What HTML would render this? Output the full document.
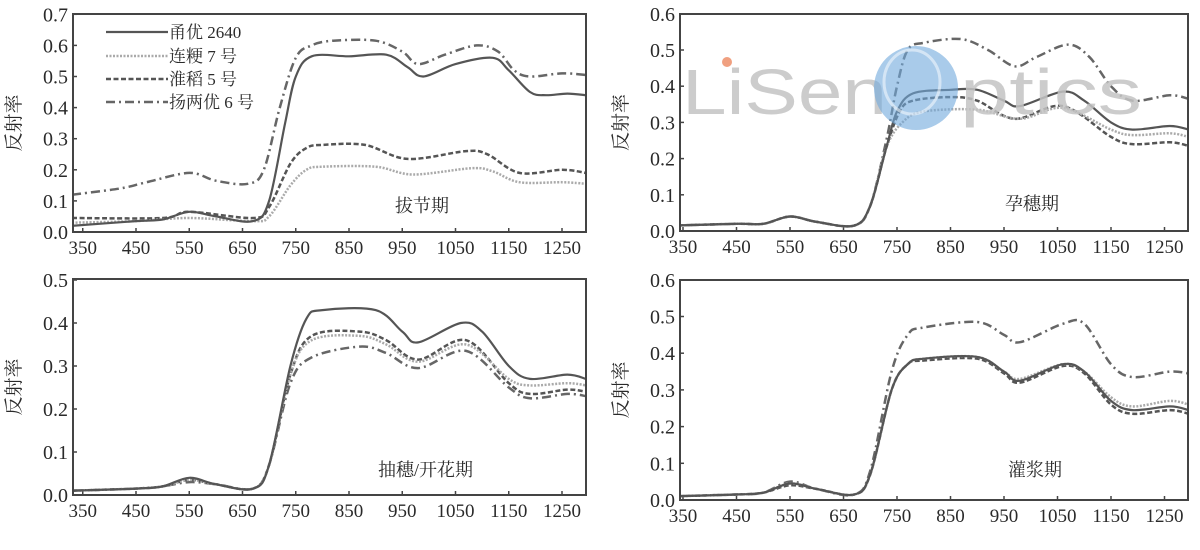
<!DOCTYPE html>
<html><head><meta charset="utf-8"><style>
html,body{margin:0;padding:0;background:#fff;}
svg{display:block;}
text{font-family:"Liberation Serif","Noto Serif CJK SC",serif;fill:#2a2a2a;}
.cj{font-family:"Liberation Serif","Noto Serif CJK SC","Noto Sans CJK SC",serif;}
</style></head><body>
<svg id="s" width="1200" height="550" viewBox="0 0 1200 550" xmlns="http://www.w3.org/2000/svg">
<g id="g"></g>
<!-- watermark -->
<text x="682" y="114" font-size="64" style="font-family:'Liberation Sans',sans-serif;fill:#c4c4c4;opacity:0.85" textLength="205" lengthAdjust="spacingAndGlyphs">LiSen</text>
<circle cx="727" cy="62" r="5" fill="#f0a080"/>
<circle cx="916" cy="88" r="42" fill="#6fa8dc" opacity="0.6"/>
<ellipse cx="912" cy="82" rx="28" ry="32" fill="none" stroke="#fff" stroke-width="3" opacity="0.5"/>
<text x="960" y="114" font-size="64" style="font-family:'Liberation Sans',sans-serif;fill:#c4c4c4;opacity:0.85" textLength="182" lengthAdjust="spacingAndGlyphs">ptics</text>
<!-- legend -->
<g font-size="17" class="cj">
<line x1="106" y1="32" x2="168" y2="32" stroke="#555" stroke-width="2.2"/>
<text x="169" y="38" class="cj">甬优 2640</text>
<line x1="106" y1="56" x2="168" y2="56" stroke="#aaa" stroke-width="2.5" stroke-dasharray="2 1.5"/>
<text x="169" y="62" class="cj">连粳 7 号</text>
<line x1="106" y1="79" x2="168" y2="79" stroke="#555" stroke-width="2.5" stroke-dasharray="5 2.5"/>
<text x="169" y="85" class="cj">淮稻 5 号</text>
<line x1="106" y1="102" x2="168" y2="102" stroke="#666" stroke-width="2.5" stroke-dasharray="9 4 2 4"/>
<text x="169" y="108" class="cj">扬两优 6 号</text>
</g>
<g font-size="18" class="cj">
<text x="395" y="212">拔节期</text>
<text x="1005" y="210">孕穗期</text>
<text x="378" y="476">抽穗/开花期</text>
<text x="1008" y="476">灌浆期</text>
</g>
</svg>
<script>
var NS="http://www.w3.org/2000/svg",G=document.getElementById('g');
function el(t,a,txt){var e=document.createElementNS(NS,t);for(var k in a)e.setAttribute(k,a[k]);if(txt!==undefined)e.textContent=txt;G.appendChild(e);return e;}
var panels=[
 {L:73,R:586,T:14,y0:232,py:311,xt:136,sx:0.5325,max:0.7,
  d:[
  [[330,.02],[450,.035],[500,.04],[550,.065],[600,.05],[670,.035],[700,.1],[730,.35],[750,.5],[780,.565],[850,.565],[920,.57],[960,.53],[990,.5],[1050,.54],[1120,.56],[1150,.52],[1190,.45],[1220,.44],[1260,.445],[1295,.44]],
  [[330,.03],[450,.035],[550,.045],[670,.035],[700,.05],[740,.15],[770,.2],[800,.21],[900,.21],[970,.185],[1080,.205],[1120,.195],[1170,.16],[1250,.16],[1295,.155]],
  [[330,.045],[500,.045],[550,.065],[670,.045],[700,.08],[740,.22],[770,.27],[800,.28],[880,.28],[960,.235],[1070,.26],[1110,.25],[1170,.19],[1250,.2],[1295,.19]],
  [[330,.12],[420,.14],[470,.16],[550,.19],[600,.165],[660,.155],[690,.2],[720,.4],[750,.56],[780,.6],[820,.615],[900,.615],[950,.58],[980,.54],[1030,.57],[1090,.6],[1130,.58],[1160,.52],[1190,.5],[1250,.51],[1295,.505]]]},
 {L:680,R:1188,T:14,y0:231,py:362,xt:736.5,sx:0.535,max:0.6,
  d:[
  [[330,.015],[450,.02],[500,.02],[550,.04],[600,.025],[670,.015],[700,.07],[730,.23],[750,.33],[780,.38],[850,.39],[900,.39],[950,.36],[980,.345],[1060,.385],[1100,.36],[1150,.3],[1190,.28],[1260,.29],[1295,.28]],
  [[330,.015],[450,.02],[500,.02],[550,.04],[600,.025],[670,.015],[700,.07],[730,.23],[760,.3],[800,.33],[900,.335],[980,.31],[1060,.34],[1150,.28],[1190,.265],[1260,.27],[1295,.26]],
  [[330,.015],[450,.02],[500,.02],[550,.04],[600,.025],[670,.015],[700,.07],[730,.23],[755,.33],[780,.36],[850,.37],[900,.36],[970,.31],[1060,.345],[1150,.26],[1190,.24],[1260,.245],[1295,.235]],
  [[330,.015],[450,.02],[500,.02],[550,.04],[600,.025],[670,.015],[700,.07],[730,.25],[750,.4],[770,.5],[800,.52],[870,.53],[920,.5],[970,.455],[1010,.48],[1070,.515],[1110,.48],[1150,.4],[1190,.36],[1260,.375],[1295,.365]]]},
 {L:73,R:586,T:279,y0:495,py:430,xt:136,sx:0.5325,max:0.5,
  d:[
  [[330,.01],[450,.015],[500,.02],[550,.04],[600,.025],[670,.015],[700,.07],[740,.3],[770,.41],[800,.43],[900,.43],[950,.38],[980,.355],[1060,.4],[1100,.38],[1150,.3],[1190,.27],[1260,.28],[1295,.27]],
  [[330,.01],[450,.015],[500,.02],[550,.035],[600,.025],[670,.015],[700,.07],[740,.28],[780,.36],[870,.37],[920,.35],[980,.31],[1070,.35],[1150,.27],[1190,.255],[1260,.26],[1295,.255]],
  [[330,.01],[450,.015],[500,.02],[550,.035],[600,.025],[670,.015],[700,.07],[740,.28],[780,.37],[870,.38],[920,.36],[980,.315],[1070,.36],[1150,.26],[1190,.235],[1260,.245],[1295,.24]],
  [[330,.01],[450,.015],[500,.02],[550,.03],[600,.025],[670,.015],[700,.07],[740,.26],[780,.32],[870,.345],[920,.33],[980,.295],[1070,.335],[1150,.25],[1190,.225],[1260,.235],[1295,.23]]]},
 {L:680,R:1188,T:280,y0:500,py:367,xt:736.5,sx:0.535,max:0.6,
  d:[
  [[330,.01],[450,.015],[500,.02],[550,.045],[600,.03],[670,.015],[700,.07],[740,.3],[770,.37],[800,.385],[900,.39],[950,.35],[980,.325],[1060,.37],[1100,.35],[1150,.27],[1190,.245],[1260,.255],[1295,.245]],
  [[330,.01],[450,.015],[500,.02],[550,.045],[600,.03],[670,.015],[700,.07],[740,.3],[770,.37],[800,.385],[900,.39],[950,.35],[980,.33],[1060,.37],[1100,.35],[1150,.28],[1190,.255],[1260,.27],[1295,.26]],
  [[330,.01],[450,.015],[500,.02],[550,.04],[600,.03],[670,.015],[700,.07],[740,.3],[770,.37],[800,.38],[900,.385],[950,.345],[980,.32],[1060,.365],[1100,.345],[1150,.26],[1190,.235],[1260,.245],[1295,.235]],
  [[330,.01],[450,.015],[500,.02],[550,.05],[600,.03],[670,.015],[700,.08],[740,.35],[770,.45],[800,.47],[900,.485],[950,.45],[980,.43],[1060,.48],[1100,.48],[1150,.37],[1190,.335],[1260,.35],[1295,.345]]]}
];
var styles=[
 {s:"#555",w:2.2,da:""},
 {s:"#aaa",w:2.5,da:"2 1.5"},
 {s:"#555",w:2.5,da:"5 2.5"},
 {s:"#666",w:2.5,da:"9 4 2 4"}];
panels.forEach(function(p){
 var X=function(l){return p.xt+(l-450)*p.sx;},Y=function(v){return p.y0-v*p.py;};
 for(var v=0;v<=p.max+1e-6;v+=0.1){var y=Y(v);
  el('line',{x1:p.L,x2:p.L+4,y1:y,y2:y,stroke:'#444','stroke-width':1.5});
  el('text',{x:p.L-5,y:y+7,'text-anchor':'end','font-size':20},v.toFixed(1));}
 for(var l=350;l<=1250;l+=100){var x=X(l);
  el('line',{x1:x,x2:x,y1:p.y0,y2:p.y0-4,stroke:'#444','stroke-width':1.5});
  el('text',{x:x,y:p.y0+22,'text-anchor':'middle','font-size':19},String(l));}
 el('text',{x:0,y:0,'font-size':19,'class':'cj',transform:'translate('+(p.L-53)+','+((p.T+p.y0)/2)+') rotate(-90)','text-anchor':'middle'},'反射率');
 var clip='c'+p.L+p.T;
 var cp=el('clipPath',{id:clip});var r=document.createElementNS(NS,'rect');
 r.setAttribute('x',p.L);r.setAttribute('y',p.T);r.setAttribute('width',p.R-p.L);r.setAttribute('height',p.y0-p.T);cp.appendChild(r);
 for(var i=3;i>=0;i--){var pts=p.d[i].map(function(q){return [X(q[0]),Y(q[1])];});
  var d='M'+pts[0][0].toFixed(1)+','+pts[0][1].toFixed(1);
  for(var k=0;k<pts.length-1;k++){var p0=pts[Math.max(0,k-1)],p1=pts[k],p2=pts[k+1],p3=pts[Math.min(pts.length-1,k+2)];
   var c1=[p1[0]+(p2[0]-p0[0])/6,p1[1]+(p2[1]-p0[1])/6],c2=[p2[0]-(p3[0]-p1[0])/6,p2[1]-(p3[1]-p1[1])/6];
   d+=' C'+c1[0].toFixed(1)+','+c1[1].toFixed(1)+' '+c2[0].toFixed(1)+','+c2[1].toFixed(1)+' '+p2[0].toFixed(1)+','+p2[1].toFixed(1);}
  var st=styles[i];var a={d:d,fill:'none',stroke:st.s,'stroke-width':st.w,'clip-path':'url(#'+clip+')'};
  if(st.da)a['stroke-dasharray']=st.da;el('path',a);}
 el('rect',{x:p.L,y:p.T,width:p.R-p.L,height:p.y0-p.T,fill:'none',stroke:'#444','stroke-width':2});
});
</script>
</body></html>
